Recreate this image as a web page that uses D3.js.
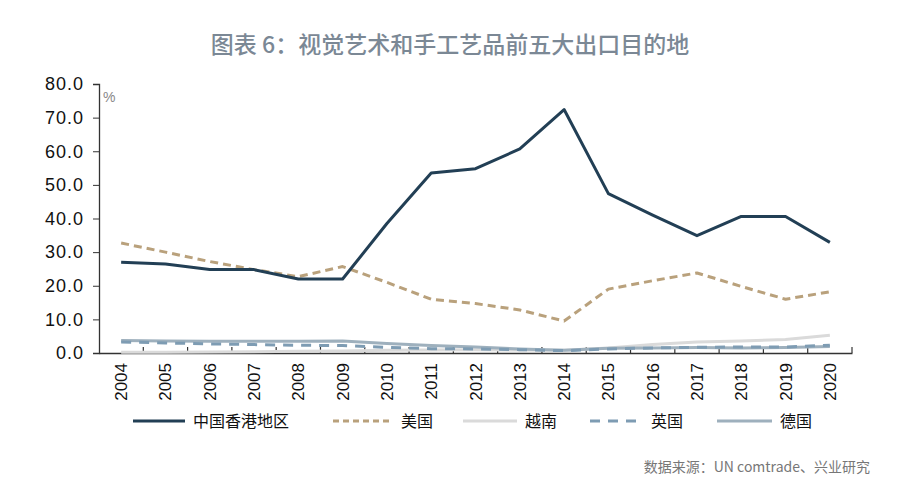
<!DOCTYPE html>
<html><head><meta charset="utf-8">
<script src="https://cdn.jsdelivr.net/npm/d3@7"></script>
<style>body{margin:0;background:#fff}svg{display:block}</style>
</head><body><svg id="c" width="900" height="486"></svg>
<script>
const years = ["2004","2005","2006","2007","2008","2009","2010","2011","2012","2013","2014","2015","2016","2017","2018","2019","2020"];
const hongKong = [27.0,26.5,24.8,24.8,22.0,22.0,38.5,53.5,54.8,60.7,72.4,47.4,41.0,34.9,40.6,40.6,32.9];
const usa = [32.7,30.0,27.2,24.8,22.7,25.7,21.0,16.0,14.7,12.8,9.5,19.0,21.5,23.8,19.8,16.0,18.2];
const vietnam = [0.2,0.2,0.3,0.4,0.5,0.6,0.8,0.9,1.0,0.9,0.8,1.5,2.5,3.3,3.6,4.0,5.3];
const uk = [3.3,3.0,2.7,2.5,2.3,2.2,1.7,1.3,1.2,1.0,0.7,1.2,1.5,1.7,1.8,1.8,2.3];
const germany = [3.7,3.6,3.5,3.5,3.5,3.6,2.8,2.2,1.8,1.2,0.8,1.4,1.5,1.6,1.5,1.6,1.9];
const yTicks = [0,10,20,30,40,50,60,70,80];
const seriesNames = ["中国香港地区","美国","越南","英国","德国"];

const series = [
  {name: seriesNames[0], values: hongKong, color: "#223f55", width: 3, dash: null},
  {name: seriesNames[1], values: usa, color: "#b9a17c", width: 3, dash: "8,5"},
  {name: seriesNames[2], values: vietnam, color: "#dadada", width: 3, dash: null},
  {name: seriesNames[3], values: uk, color: "#7e9cb3", width: 3, dash: "10,8"},
  {name: seriesNames[4], values: germany, color: "#9eb0bd", width: 3, dash: null}
];

const svg = d3.select("#c");
const x = d3.scaleBand().domain(years).range([99, 852]);
const y = d3.scaleLinear().domain([0, 80]).range([353, 84]);

svg.append("text").attr("x", 450).attr("y", 53).attr("text-anchor", "middle")
  .attr("font-family", "'Noto Sans CJK SC', sans-serif").attr("font-size", 23).attr("font-weight", 500)
  .attr("fill", "#7b8895").text("图表 6：视觉艺术和手工艺品前五大出口目的地");

// y axis
const ya = svg.append("g").attr("transform", "translate(99,0)")
  .call(d3.axisLeft(y).tickValues(yTicks).tickFormat(d3.format(".1f")).tickSize(6).tickPadding(9));
ya.select(".domain").attr("stroke", "#333").attr("stroke-width", 1.3);
ya.selectAll(".tick line").attr("stroke", "#333");
ya.selectAll("text").attr("font-family", "'Liberation Sans', Arial, sans-serif").attr("font-size", 18)
  .attr("letter-spacing", 1).attr("fill", "#111");

svg.append("text").attr("x", 103).attr("y", 102).attr("font-family", "'Liberation Sans', Arial, sans-serif")
  .attr("font-size", 14).attr("fill", "#888").text("%");

// x axis
const xa = svg.append("g").attr("transform", "translate(0,353)")
  .call(d3.axisBottom(x).tickSize(0).tickPadding(0));
xa.select(".domain").attr("stroke", "#333").attr("stroke-width", 1.3);
xa.selectAll(".tick text").attr("font-family", "'Liberation Sans', Arial, sans-serif").attr("font-size", 17)
  .attr("fill", "#111").attr("text-anchor", "end").attr("dy", null)
  .attr("transform", "translate(6,10) rotate(-90)");
// boundary ticks between categories
svg.append("g").selectAll("line").data(years.slice(1).concat(["end"])).join("line")
  .attr("x1", (d, i) => x(years[0]) + x.step() * (i + 1)).attr("x2", (d, i) => x(years[0]) + x.step() * (i + 1))
  .attr("y1", 353).attr("y2", 347).attr("stroke", "#333").attr("stroke-width", 1.2);

const line = d3.line().x((d, i) => x(years[i]) + x.bandwidth() / 2).y(d => y(d));
const order = [2, 4, 3, 1, 0];
svg.append("g").selectAll("path").data(order.map(i => series[i])).join("path")
  .attr("d", d => line(d.values)).attr("fill", "none").attr("stroke", d => d.color)
  .attr("stroke-width", d => d.width).attr("stroke-dasharray", d => d.dash)
  .attr("stroke-linejoin", "round");

// legend
const legX = [133, 333, 463, 590, 717];
const legLen = [52, 60, 54, 53, 55];
const lg = svg.append("g").selectAll("g").data(series).join("g")
  .attr("transform", (d, i) => `translate(${legX[i]},421)`);
lg.append("line").attr("x1", 0).attr("x2", (d, i) => legLen[i]).attr("y1", 0).attr("y2", 0)
  .attr("stroke", d => d.color).attr("stroke-width", 3).attr("stroke-dasharray", (d, i) => i === 1 ? "6,4" : d.dash);
lg.append("text").attr("x", (d, i) => legLen[i] + 8).attr("y", 6)
  .attr("font-family", "'Noto Sans CJK SC', sans-serif").attr("font-size", 16).attr("fill", "#111").text(d => d.name);

svg.append("text").attr("x", 870).attr("y", 472).attr("text-anchor", "end")
  .attr("font-family", "'Noto Sans CJK SC', sans-serif").attr("font-size", 14).attr("fill", "#777")
  .text("数据来源：UN comtrade、兴业研究");
</script></body></html>
